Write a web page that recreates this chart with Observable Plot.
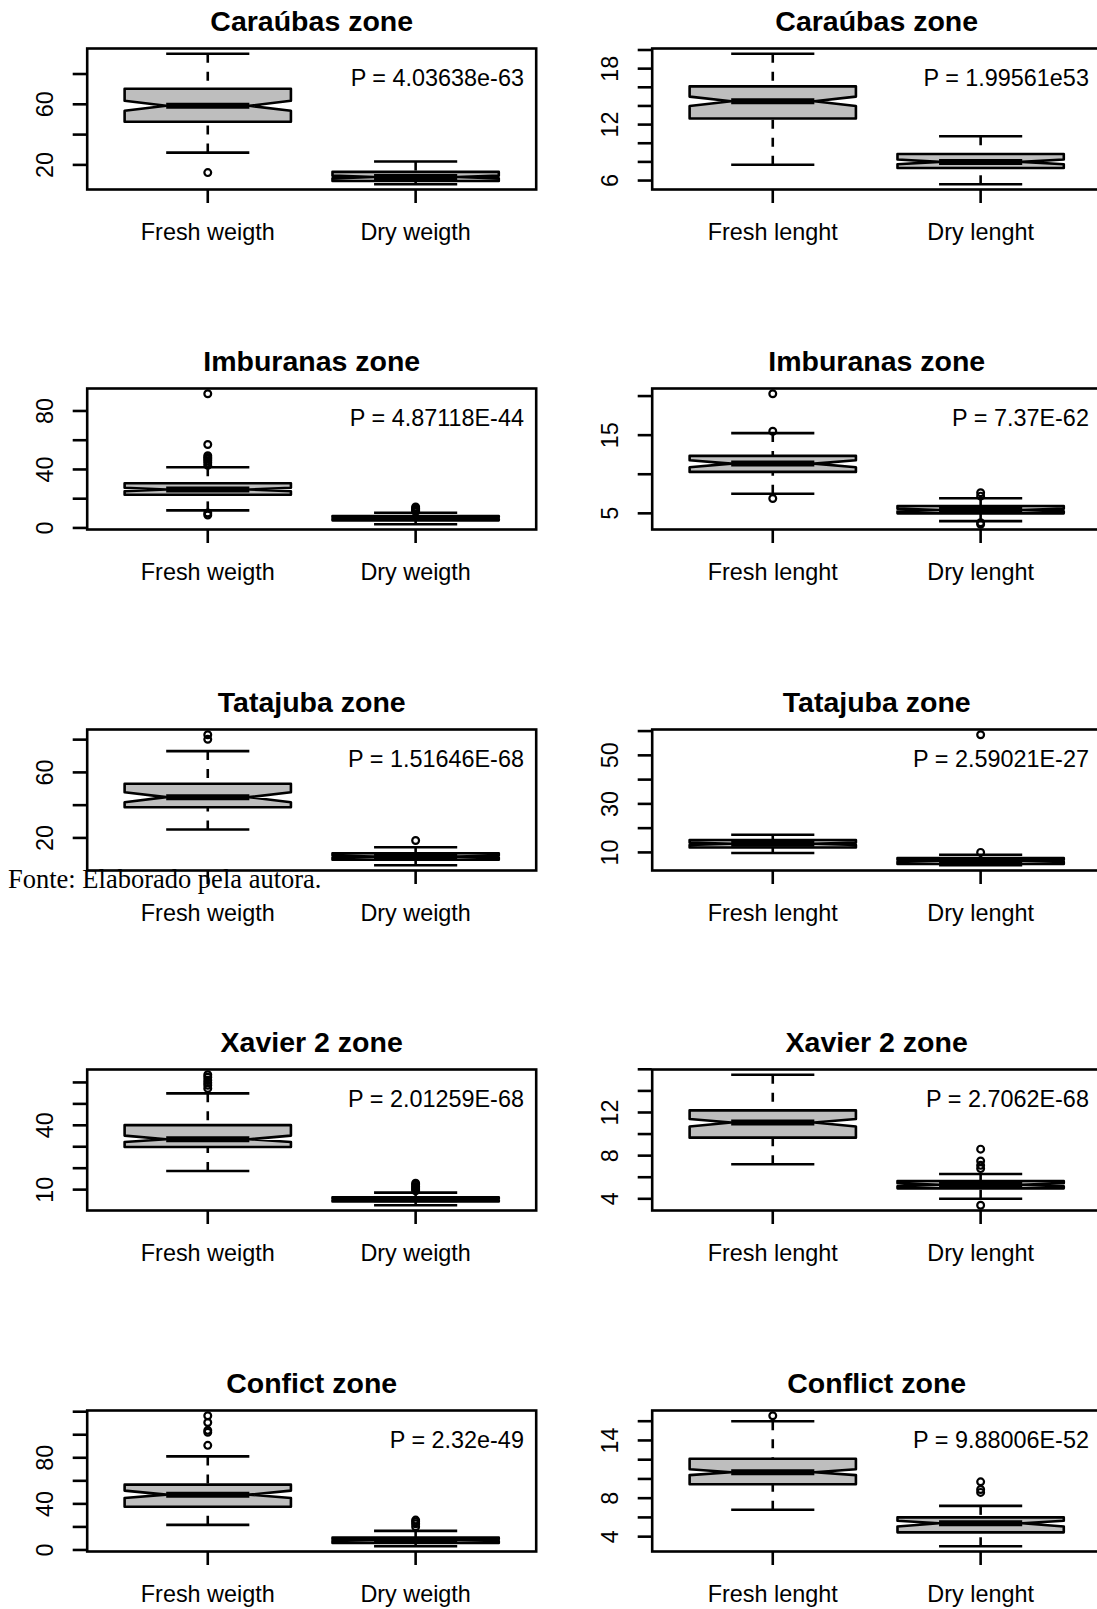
<!DOCTYPE html>
<html><head><meta charset="utf-8">
<script src="https://cdn.jsdelivr.net/npm/d3@7"></script>
<script src="https://cdn.jsdelivr.net/npm/@observablehq/plot@0.6"></script>
<style>
html,body{margin:0;padding:0;background:#fff;overflow:hidden;}
#page{position:relative;width:1097px;height:1609px;overflow:hidden;background:#fff;}
.panel{position:absolute;width:565px;height:340px;}
.panel svg{overflow:visible;max-width:none !important;width:565px !important;height:340px !important;}
#fonte{position:absolute;left:8px;top:865.5px;font-family:"Liberation Serif","Times New Roman",serif;font-size:26.5px;line-height:26.5px;color:#000;white-space:nowrap;z-index:5;}
</style></head>
<body><div id="page"></div>
<script>
// ---------- data ----------
const weightTitles = ["Caraúbas zone", "Imburanas zone", "Tatajuba zone", "Xavier 2 zone", "Confict zone"];
const lengthTitles = ["Caraúbas zone", "Imburanas zone", "Tatajuba zone", "Xavier 2 zone", "Conflict zone"];
const weightGroups = ["Fresh weigth", "Dry weigth"];
const lengthGroups = ["Fresh lenght", "Dry lenght"];
const weightP = ["P = 4.03638e-63", "P = 4.87118E-44", "P = 1.51646E-68", "P = 2.01259E-68", "P = 2.32e-49"];
const lengthP = ["P = 1.99561e53", "P = 7.37E-62", "P = 2.59021E-27", "P = 2.7062E-68", "P = 9.88006E-52"];

// [lower whisker, Q1, median, Q3, upper whisker]
const freshWeight = [
  [28.1, 48.5, 59.0, 70.3, 93.4],
  [12.0, 22.7, 26.3, 30.6, 41.5],
  [25.1, 38.7, 44.9, 53.1, 73.0],
  [18.7, 29.9, 33.5, 40.1, 54.9],
  [21.8, 37.5, 48.0, 56.7, 81.2]
];
const freshWeightNotch = [[55.7, 62.3], [25.1, 27.5], [41.8, 47.9], [32.2, 35.2], [45.1, 51.5]];
const freshWeightOut = [
  [14.9],
  [91.8, 57.1, 49.4, 48.2, 47.2, 45.9, 44.5, 42.8, 10.2, 8.8],
  [83.0, 80.2],
  [63.6, 62.4, 61.0, 59.8, 58.7, 57.2],
  [116.5, 110.6, 103.8, 102.1, 90.8]
];
const dryWeight = [
  [7.2, 9.4, 12.0, 15.4, 22.2],
  [2.5, 5.2, 6.8, 8.2, 10.4],
  [3.3, 6.7, 8.6, 10.6, 14.3],
  [2.7, 4.5, 5.5, 6.4, 8.6],
  [3.2, 6.1, 8.7, 10.7, 16.6]
];
const dryWeightNotch = [[11.1, 12.9], [6.3, 7.3], [8.0, 9.2], [5.2, 5.8], [8.0, 9.4]];
const dryWeightOut = [
  [],
  [11.2, 12.0, 12.8, 13.5, 14.3],
  [18.4],
  [13.0, 12.3, 11.5, 10.8, 10.2, 9.5],
  [25.9, 24.4, 22.7, 20.1]
];
const freshLength = [
  [7.7, 12.65, 14.5, 16.1, 19.6],
  [7.5, 10.3, 11.36, 12.35, 15.26],
  [9.75, 12.05, 13.6, 15.1, 17.25],
  [7.2, 9.67, 11.07, 12.2, 15.5],
  [6.8, 9.45, 10.7, 12.1, 16.0]
];
const freshLengthNotch = [[14.0, 15.0], [10.9, 11.8], [13.1, 14.1], [10.7, 11.4], [10.4, 11.0]];
const freshLengthOut = [[], [20.3, 15.5, 6.9], [], [], [16.57]];
const dryLength = [
  [5.6, 7.35, 8.0, 8.85, 10.75],
  [4.0, 5.0, 5.42, 5.94, 6.92],
  [4.7, 5.25, 6.6, 7.7, 9.05],
  [4.0, 4.97, 5.3, 5.65, 6.3],
  [3.0, 4.45, 5.4, 6.0, 7.2]
];
const dryLengthNotch = [[7.75, 8.25], [5.25, 5.6], [6.2, 7.0], [5.15, 5.45], [5.06, 5.66]];
const dryLengthOut = [[], [7.64, 7.2, 3.8, 3.6], [58.5, 10.0], [8.6, 7.5, 7.1, 6.8, 3.4], [9.7, 8.9, 8.6]];

const weightTicks = [[20, 40, 60, 80], [0, 20, 40, 60, 80], [20, 40, 60, 80], [10, 20, 30, 40, 50, 60], [0, 20, 40, 60, 80, 100, 120]];
const weightTickLabels = [[20, 60], [0, 40, 80], [20, 60], [10, 40], [0, 40, 80]];
const lengthTicks = [[6, 8, 10, 12, 14, 16, 18, 20], [5, 10, 15, 20], [10, 20, 30, 40, 50, 60], [4, 6, 8, 10, 12, 14, 16], [4, 6, 8, 10, 12, 14, 16]];
const lengthTickLabels = [[6, 12, 18], [5, 15], [10, 30, 50], [4, 8, 12], [4, 8, 14]];

// ---------- drawing ----------
const LW = 2.6;
function makePanel(title, groups, pText, stats, notches, outs, ticks, labels) {
  const boxes = stats.map((s, i) => ({
    pos: i + 1, lo: s[0], q1: s[1], med: s[2], q3: s[3], hi: s[4],
    nlo: notches[i][0], nhi: notches[i][1]
  }));
  const outliers = outs.flatMap((arr, i) => arr.map(v => ({pos: i + 1, v})));
  const all = stats.flat().concat(outliers.map(d => d.v));
  const mn = d3.min(all), mx = d3.max(all), r = mx - mn;
  const w = 0.4, nf = 0.5;
  const poly = boxes.flatMap(b => {
    const x = b.pos;
    return [
      [x - w, b.q1], [x + w, b.q1], [x + w, b.nlo], [x + w * nf, b.med], [x + w, b.nhi],
      [x + w, b.q3], [x - w, b.q3], [x - w, b.nhi], [x - w * nf, b.med], [x - w, b.nlo], [x - w, b.q1]
    ].map(([px, py]) => ({box: b.pos, px, py}));
  });
  return Plot.plot({
    width: 565, height: 340,
    marginLeft: 86.7, marginRight: 29.3, marginTop: 48, marginBottom: 151,
    style: {fontFamily: "'Liberation Sans', Arial, sans-serif", fontSize: "23.4px", color: "#000", background: "transparent", overflow: "visible"},
    x: {type: "linear", domain: [0.42, 2.58], axis: null},
    y: {type: "linear", domain: [mn - 0.04 * r, mx + 0.04 * r], axis: null},
    marks: [
      Plot.line(poly, {x: "px", y: "py", z: "box", fill: "#bebebe", stroke: "#000", strokeWidth: LW, strokeLinejoin: "round"}),
      Plot.link(boxes, {x1: d => d.pos - w * nf, x2: d => d.pos + w * nf, y1: "med", y2: "med", stroke: "#000", strokeWidth: 6, strokeLinecap: "butt"}),
      Plot.link(boxes, {x1: "pos", x2: "pos", y1: "hi", y2: "q3", stroke: "#000", strokeWidth: LW, strokeDasharray: "9,9", strokeLinecap: "butt"}),
      Plot.link(boxes, {x1: "pos", x2: "pos", y1: "lo", y2: "q1", stroke: "#000", strokeWidth: LW, strokeDasharray: "9,9", strokeLinecap: "butt"}),
      Plot.link(boxes, {x1: d => d.pos - 0.2, x2: d => d.pos + 0.2, y1: "hi", y2: "hi", stroke: "#000", strokeWidth: LW}),
      Plot.link(boxes, {x1: d => d.pos - 0.2, x2: d => d.pos + 0.2, y1: "lo", y2: "lo", stroke: "#000", strokeWidth: LW}),
      Plot.dot(outliers, {x: "pos", y: "v", r: 3.4, stroke: "#000", strokeWidth: 2.2, fill: "none"}),
      Plot.frame({stroke: "#000", strokeWidth: LW}),
      Plot.axisY({ticks: ticks, anchor: "left", tickSize: 14, tickPadding: 20, tickRotate: -90, strokeWidth: LW,
        tickFormat: d => labels.includes(d) ? String(d) : ""}),
      Plot.axisX({ticks: [1, 2], anchor: "bottom", tickSize: 14, tickPadding: 20, strokeWidth: LW,
        tickFormat: d => groups[Math.round(d) - 1]}),
      Plot.text([title], {text: d => d, frameAnchor: "top", dy: -17.3, lineAnchor: "bottom", textAnchor: "middle", fontWeight: "bold", fontSize: 28.5}),
      Plot.text([pText], {text: d => d, frameAnchor: "top-right", dx: -12.3, dy: 30, lineAnchor: "middle", textAnchor: "end"})
    ]
  });
}

const page = document.getElementById("page");
const ROW = 340.45, COL = 565;
for (let i = 0; i < 5; i++) {
  const left = makePanel(weightTitles[i], weightGroups, weightP[i],
    [freshWeight[i], dryWeight[i]], [freshWeightNotch[i], dryWeightNotch[i]], [freshWeightOut[i], dryWeightOut[i]],
    weightTicks[i], weightTickLabels[i]);
  const right = makePanel(lengthTitles[i], lengthGroups, lengthP[i],
    [freshLength[i], dryLength[i]], [freshLengthNotch[i], dryLengthNotch[i]], [freshLengthOut[i], dryLengthOut[i]],
    lengthTicks[i], lengthTickLabels[i]);
  for (const [node, col] of [[left, 0], [right, 1]]) {
    const div = document.createElement("div");
    div.className = "panel";
    div.style.left = (col * COL) + "px";
    div.style.top = (i * ROW) + "px";
    div.appendChild(node);
    page.appendChild(div);
  }
}
const fonte = document.createElement("div");
fonte.id = "fonte";
fonte.textContent = "Fonte: Elaborado pela autora.";
page.appendChild(fonte);
</script>
</body></html>
